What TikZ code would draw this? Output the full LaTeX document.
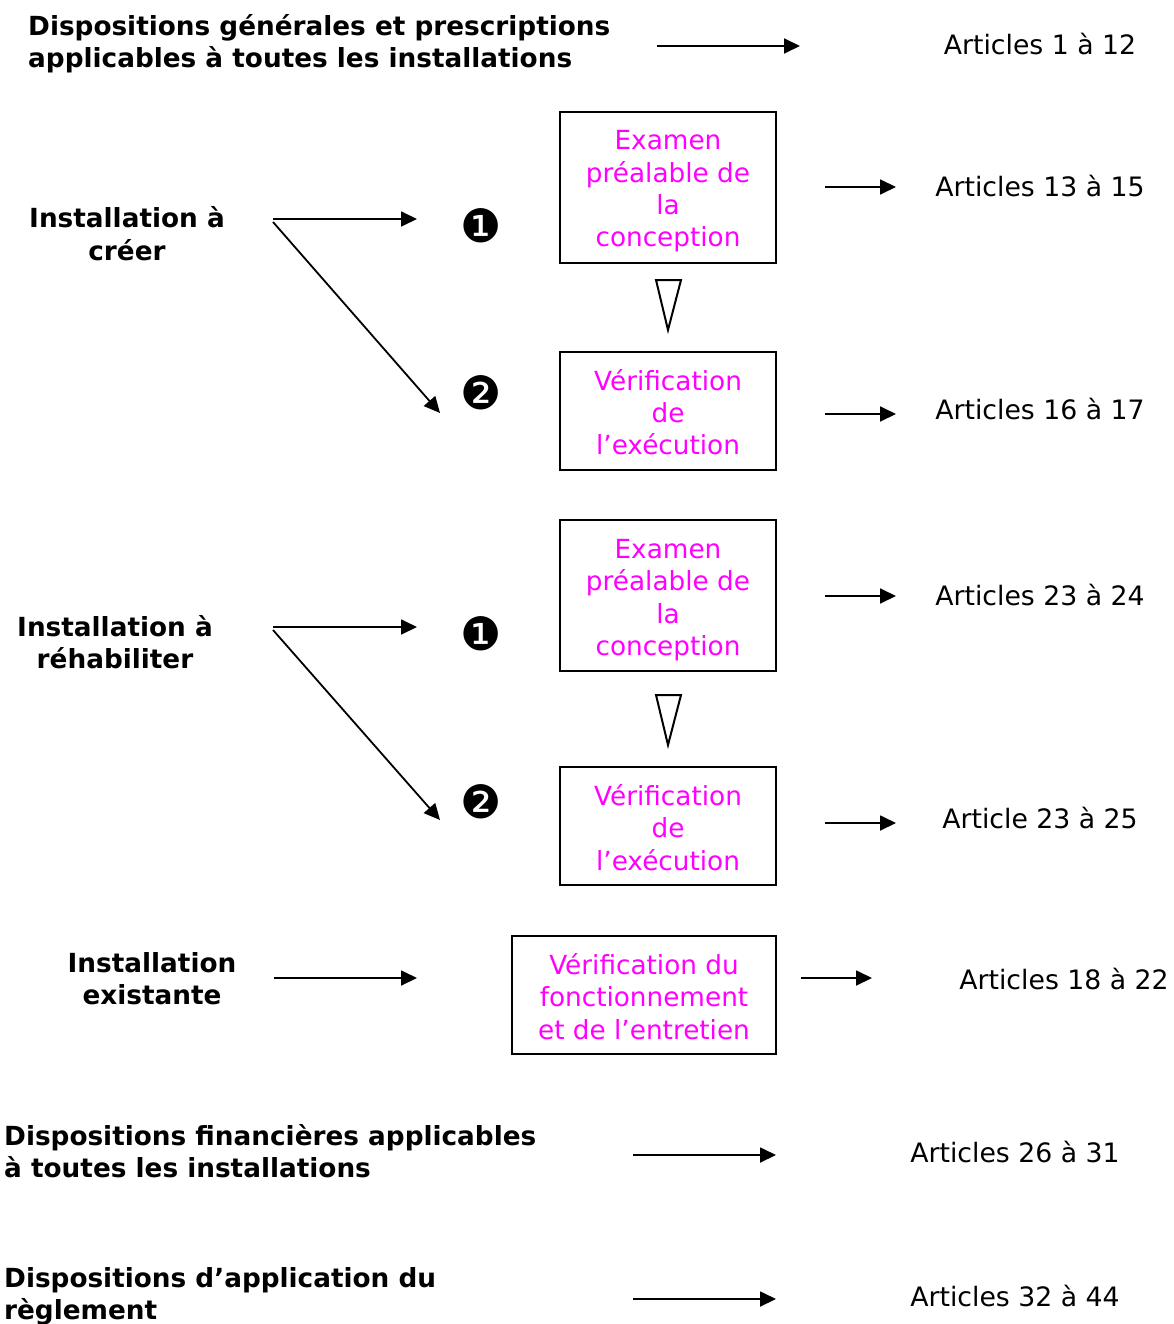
\documentclass[tikz,border=0pt]{standalone}
\usepackage{fontspec}
\setmainfont{DejaVu Sans}
\usetikzlibrary{arrows.meta}
\definecolor{mag}{RGB}{255,0,255}
\begin{document}
\begin{tikzpicture}[x=1pt,y=-1pt,
  lbl/.style={font=\fontsize{26.3}{32.5}\selectfont\bfseries, inner sep=0pt},
  art/.style={font=\fontsize{26.7}{33}\selectfont, inner sep=0pt},
  box/.style={draw, line width=2pt, inner sep=0pt, minimum width=216pt},
  boxtxt/.style={text=mag, font=\fontsize{26.3}{32.3}\selectfont, align=center, inner sep=0pt},
  num/.style={font=\fontsize{46}{46}\selectfont, inner sep=0pt},
  arr/.style={line width=1.8pt, -{Triangle[length=16pt,width=15pt]}},
  tri/.style={line width=2pt, line join=miter}]
\useasboundingbox (0,0) rectangle (1173,1324);

% Row 0
\node[lbl, align=left, anchor=west] (t0) at (28,43.5) {Dispositions générales et prescriptions\\applicables à toutes les installations};
\node[art] (a0) at (1040,44) {Articles 1 à 12};
\coordinate (s0) at (657,46); \coordinate (e0) at (800,46);
\draw[arr] (s0) -- (e0);

% Installation à créer
\node[lbl, align=center] (c) at (127,233.5) {Installation à\\créer};
\coordinate (cs) at (273,219); \coordinate (ce1) at (417,219);
\coordinate (cs2) at (273,222); \coordinate (ce2) at (440,413);
\draw[arr] (cs) -- (ce1);
\draw[arr] (cs2) -- (ce2);
\node[num] (n1a) at (481.5,226) {❶};
\node[num] (n2a) at (481.5,393) {❷};

\node[box, minimum height=151pt] (b1) at (668,187.5) {};
\node[boxtxt] (b1t) at (668,191.5) {Examen\\préalable de\\la\\conception};
\node[box, minimum height=118pt] (b2) at (668,411) {};
\node[boxtxt] (b2t) at (668,412) {Vérification\\de\\l’exécution};
\coordinate (tr1a) at (656,280); \coordinate (tr1b) at (681,280); \coordinate (tr1c) at (668,330);
\draw[tri] (tr1a) -- (tr1b) -- (tr1c) -- cycle;

\coordinate (s1) at (825,187); \coordinate (e1) at (896,187);
\draw[arr] (s1) -- (e1);
\node[art] (a1) at (1040,186) {Articles 13 à 15};
\coordinate (s2) at (825,414); \coordinate (e2) at (896,414);
\draw[arr] (s2) -- (e2);
\node[art] (a2) at (1040,409) {Articles 16 à 17};

% Installation à réhabiliter
\node[lbl, align=center] (r) at (115,642) {Installation à\\réhabiliter};
\coordinate (rs) at (273,627); \coordinate (re1) at (417,627);
\coordinate (rs2) at (273,630); \coordinate (re2) at (440,820);
\draw[arr] (rs) -- (re1);
\draw[arr] (rs2) -- (re2);
\node[num] (n1b) at (481.5,634) {❶};
\node[num] (n2b) at (481.5,802) {❷};

\node[box, minimum height=151pt] (b3) at (668,595.5) {};
\node[boxtxt] (b3t) at (668,600) {Examen\\préalable de\\la\\conception};
\node[box, minimum height=118pt] (b4) at (668,826) {};
\node[boxtxt] (b4t) at (668,827.5) {Vérification\\de\\l’exécution};
\coordinate (tr2a) at (656,695); \coordinate (tr2b) at (681,695); \coordinate (tr2c) at (668,745);
\draw[tri] (tr2a) -- (tr2b) -- (tr2c) -- cycle;

\coordinate (s3) at (825,596); \coordinate (e3) at (896,596);
\draw[arr] (s3) -- (e3);
\node[art] (a3) at (1040,595) {Articles 23 à 24};
\coordinate (s4) at (825,823); \coordinate (e4) at (896,823);
\draw[arr] (s4) -- (e4);
\node[art] (a4) at (1040,818) {Article 23 à 25};

% Installation existante
\node[lbl, align=center] (x) at (152,978.5) {Installation\\existante};
\coordinate (xs) at (274,978); \coordinate (xe) at (417,978);
\draw[arr] (xs) -- (xe);
\node[box, minimum width=264pt, minimum height=118pt] (b5) at (644,995) {};
\node[boxtxt] (b5t) at (644,996.5) {Vérification du\\fonctionnement\\et de l’entretien};
\coordinate (s5) at (801,978); \coordinate (e5) at (872,978);
\draw[arr] (s5) -- (e5);
\node[art] (a5) at (1064,979) {Articles 18 à 22};

% Financial
\node[lbl, align=left, anchor=west] (f) at (4,1151) {Dispositions financières applicables\\à toutes les installations};
\coordinate (s6) at (633,1155); \coordinate (e6) at (776,1155);
\draw[arr] (s6) -- (e6);
\node[art] (a6) at (1015,1152) {Articles 26 à 31};

% Application
\node[lbl, align=left, anchor=west] (p) at (4,1296.5) {Dispositions d’application du\\règlement};
\coordinate (s7) at (633,1299); \coordinate (e7) at (776,1299);
\draw[arr] (s7) -- (e7);
\node[art] (a7) at (1015,1296) {Articles 32 à 44};
\end{tikzpicture}
\end{document}
